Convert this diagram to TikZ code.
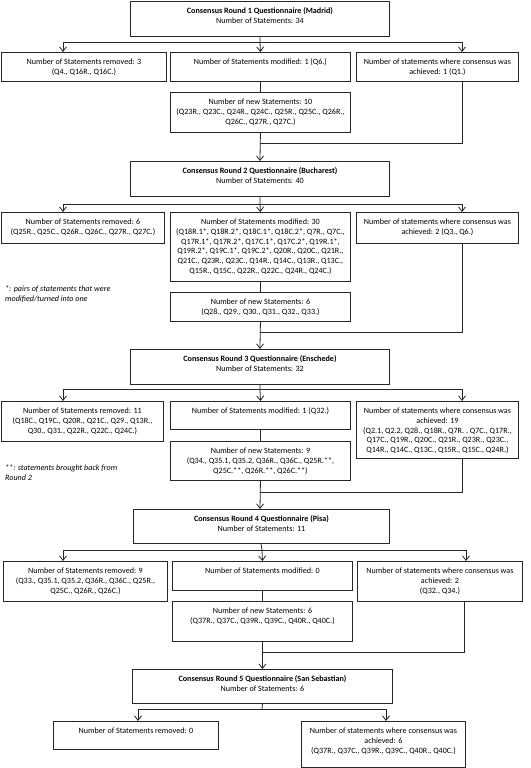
\documentclass[tikz,border=0pt]{standalone}
\usepackage{fontspec}
\setmainfont{Carlito}
\usetikzlibrary{arrows.meta}
\newlength\mwa\newlength\mwb\newlength\mwc\newlength\mwe
\tikzset{
  bx/.style={draw=black!85, line width=0.9pt, fill=white, inner sep=0pt, anchor=north west,
             font=\fontsize{\fsz}{9.8}\selectfont},
  ln/.style={draw=black!85, line width=0.8pt},
  arr/.style={ln, -{Straight Barb[length=4.5pt,width=7pt]}},
  note/.style={anchor=north west, inner sep=0pt, align=left,
               font=\fontsize{\fsz}{9.8}\selectfont\itshape}
}
\newcommand\bxtext[3]{\parbox[c][#2pt][t]{#1pt}{\centering\rule{0pt}{12pt}#3\par}}
\newcommand\bxn[6]{\node[bx] (#1) at (#2,#3) {\bxtext{#4}{#5}{#6}};}
\begin{document}
\settowidth\mwa{\fontsize{10}{12}\selectfont Number of Statements removed: 3}%
\settowidth\mwb{\fontsize{10}{12}\selectfont (Q18R.1*, Q18R.2*, Q18C.1*, Q18C.2*, Q7R., Q7C.,}%
\settowidth\mwc{\fontsize{10}{12}\selectfont\bfseries Consensus Round 1 Questionnaire (Madrid)}%
\settowidth\mwe{\fontsize{10}{12}\selectfont Number of statements where consensus was}%
\pgfmathsetmacro\fsz{min(8.9,10*576/(\mwa+\mwb+\mwc+\mwe))}%
\begin{tikzpicture}[x=1pt,y=-1pt]
\useasboundingbox[fill=white] (0,0) rectangle (530,768);

% ---------- Round 1
\bxn{r1}{130}{1}{259}{35}{\textbf{Consensus Round 1 Questionnaire (Madrid)}\\Number of Statements: 34}
\bxn{rem1}{1}{52}{165}{29}{Number of Statements removed: 3\\(Q4., Q16R., Q16C.)}
\bxn{mod1}{170}{52}{180}{29}{Number of Statements modified: 1 (Q6.)}
\bxn{ach1}{356}{52}{162}{29}{Number of statements where consensus was\\achieved: 1 (Q1.)}
\bxn{new1}{170}{92}{180}{40}{Number of new Statements: 10\\(Q23R., Q23C., Q24R., Q24C., Q25R., Q25C., Q26R.,\\Q26C., Q27R., Q27C.)}

% ---------- Round 2
\bxn{r2}{130}{161}{259}{35}{\textbf{Consensus Round 2 Questionnaire (Bucharest)}\\Number of Statements: 40}
\bxn{rem2}{1}{212}{163}{31}{Number of Statements removed: 6\\(Q25R., Q25C., Q26R., Q26C., Q27R., Q27C.)}
\bxn{mod2}{170}{212}{180}{69}{Number of Statements modified: 30\\(Q18R.1*, Q18R.2*, Q18C.1*, Q18C.2*, Q7R., Q7C.,\\Q17R.1*, Q17R.2*, Q17C.1*, Q17C.2*, Q19R.1*,\\Q19R.2*, Q19C.1*, Q19C.2*, Q20R., Q20C., Q21R.,\\Q21C., Q23R., Q23C., Q14R., Q14C., Q13R., Q13C.,\\Q15R., Q15C., Q22R., Q22C., Q24R., Q24C.)}
\bxn{ach2}{356}{212}{162}{31}{Number of statements where consensus was\\achieved: 2 (Q3., Q6.)}
\bxn{new2}{170}{292}{180}{29}{Number of new Statements: 6\\(Q28., Q29., Q30., Q31., Q32., Q33.)}
\node[note] (n1) at (5,286) {*: pairs of statements that were\\modified/turned into one};

% ---------- Round 3
\bxn{r3}{130}{349}{259}{35}{\textbf{Consensus Round 3 Questionnaire (Enschede)}\\Number of Statements: 32}
\bxn{rem3}{1}{401}{162}{40}{Number of Statements removed: 11\\(Q18C., Q19C., Q20R., Q21C., Q29., Q13R.,\\Q30., Q31., Q22R., Q22C., Q24C.)}
\bxn{mod3}{170}{401}{180}{28}{Number of Statements modified: 1 (Q32.)}
\bxn{ach3}{356}{401}{162}{57}{Number of statements where consensus was\\achieved: 19\\(Q2.1, Q2.2, Q28., Q18R., Q7R. , Q7C., Q17R.,\\Q17C., Q19R., Q20C., Q21R., Q23R., Q23C.,\\Q14R., Q14C., Q13C., Q15R., Q15C., Q24R.)}
\bxn{new3}{170}{441}{180}{39}{Number of new Statements: 9\\(Q34., Q35.1, Q35.2, Q36R., Q36C., Q25R.**,\\Q25C.**, Q26R.**, Q26C.**)}
\node[note] (n2) at (5,465) {**: statements brought back from\\Round 2};

% ---------- Round 4
\bxn{r4}{133}{509}{256}{34}{\textbf{Consensus Round 4 Questionnaire (Pisa)}\\Number of Statements: 11}
\bxn{rem4}{3}{561}{164}{40}{Number of Statements removed: 9\\(Q33., Q35.1, Q35.2, Q36R., Q36C., Q25R.,\\Q25C., Q26R., Q26C.)}
\bxn{mod4}{172}{561}{180}{29}{Number of Statements modified: 0}
\bxn{ach4}{357}{561}{165}{40}{Number of statements where consensus was\\achieved: 2\\(Q32., Q34.)}
\bxn{new4}{172}{601}{180}{40}{Number of new Statements: 6\\(Q37R., Q37C., Q39R., Q39C., Q40R., Q40C.)}

% ---------- Round 5
\bxn{r5}{132}{669}{260}{34}{\textbf{Consensus Round 5 Questionnaire (San Sebastian)}\\Number of Statements: 6}
\bxn{rem5}{53}{721}{165}{28}{Number of Statements removed: 0}
\bxn{ach5}{301}{721}{164}{46}{Number of statements where consensus was\\achieved: 6\\(Q37R., Q37C., Q39R., Q39C., Q40R., Q40C.)}

% ---------- connectors round 1
\coordinate (j1) at (260,42);
\coordinate (k1) at (260,143);
\draw[ln] (r1.south) -- (j1);
\draw[arr] (j1) -| (63,0 |- rem1.north);
\draw[arr] (j1) -- (mod1.north);
\draw[arr] (j1) -| (462,0 |- ach1.north);
\draw[ln] (mod1.south) -- (new1.north);
\draw[arr] (new1.south) -- (r2.north);
\draw[ln] (462,0 |- ach1.south) |- (k1);

% ---------- connectors round 2
\coordinate (j2) at (260,204);
\coordinate (k2) at (260,332);
\draw[ln] (r2.south) -- (j2);
\draw[arr] (j2) -| (63,0 |- rem2.north);
\draw[arr] (j2) -- (mod2.north);
\draw[arr] (j2) -| (462,0 |- ach2.north);
\draw[ln] (mod2.south) -- (new2.north);
\draw[arr] (new2.south) -- (r3.north);
\draw[ln] (462,0 |- ach2.south) |- (k2);

% ---------- connectors round 3
\coordinate (j3) at (260,389);
\coordinate (k3) at (260,492);
\draw[ln] (r3.south) -- (j3);
\draw[arr] (j3) -| (63,0 |- rem3.north);
\draw[arr] (j3) -- (mod3.north);
\draw[arr] (j3) -| (462,0 |- ach3.north);
\draw[ln] (mod3.south) -- (new3.north);
\draw[arr] (new3.south) -- (260,0 |- r4.north);
\draw[ln] (462,0 |- ach3.south) |- (k3);

% ---------- connectors round 4
\coordinate (j4) at (262,550);
\coordinate (k4) at (262,652);
\draw[ln] (261,0 |- r4.south) -- (j4);
\draw[arr] (j4) -| (63,0 |- rem4.north);
\draw[arr] (j4) -- (mod4.north);
\draw[arr] (j4) -| (466,0 |- ach4.north);
\draw[ln] (mod4.south) -- (new4.north);
\draw[arr] (new4.south) -- (r5.north);
\draw[ln] (464,0 |- ach4.south) |- (k4);

% ---------- connectors round 5
\coordinate (j5) at (262,709);
\draw[ln] (r5.south) -- (j5);
\draw[arr] (j5) -| (138,0 |- rem5.north);
\draw[arr] (j5) -| (386,0 |- ach5.north);
\end{tikzpicture}
\end{document}
